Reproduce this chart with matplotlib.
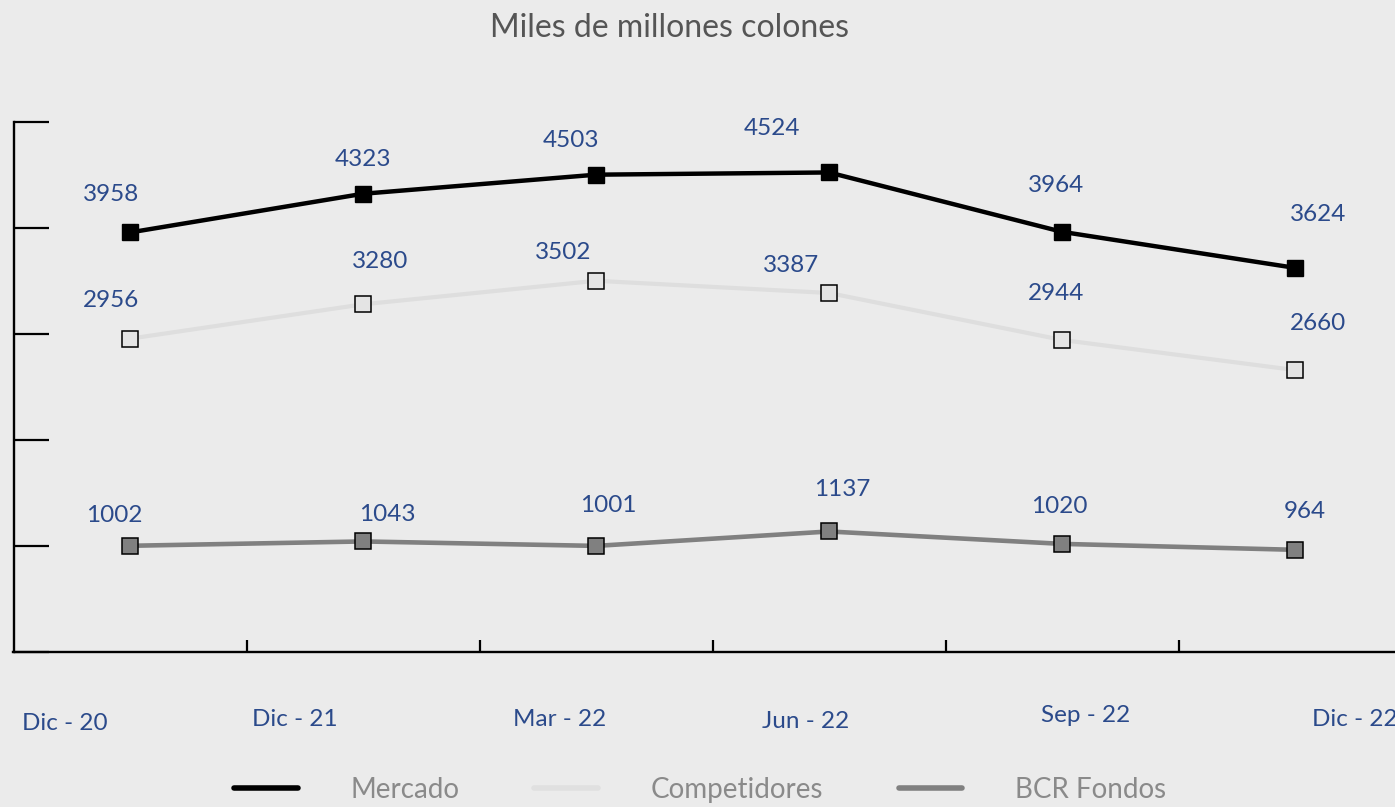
import numpy as np
import matplotlib.pyplot as plt
from matplotlib.lines import Line2D

# datos
periodos = ["Dic - 20", "Dic - 21", "Mar - 22", "Jun - 22", "Sep - 22", "Dic - 22"]
mercado = [3958, 4323, 4503, 4524, 3964, 3624]
competidores = [2956, 3280, 3502, 3387, 2944, 2660]
bcr_fondos = [1002, 1043, 1001, 1137, 1020, 964]

# desplazamientos (pixeles) de las etiquetas
off_mercado = [(-19, 38), (0, 34), (-25, 34), (-57, 44), (-6, 46), (23, 53)]
off_comp = [(-19, 38), (17, 43), (-33, 28), (-38, 27), (-6, 46), (23, 47)]
off_bcr = [(-16, 30), (24, 27), (12, 40), (13, 42), (-3, 37), (10, 38)]
off_per = [(-65, -71), (-68, -68), (-36, -68), (-23, -70), (24, -63), (60, -68)]

azul = "#2b4a8b"
fondo = "#ebebeb"

plt.rcParams['font.family'] = ['Lato', 'DejaVu Sans']

fig = plt.figure(figsize=(13.95, 8.07), dpi=100, facecolor=fondo)
ax = fig.add_axes([13.5 / 1395, 155 / 807, 1398 / 1395, 530 / 807])
ax.set_facecolor("none")

x = np.arange(len(periodos))

ax.plot(x, competidores, color="#dedede", lw=3.0, marker="s", ms=11.5,
        mfc="#e4e4e4", mec="black", mew=1.1, zorder=3)
ax.plot(x, bcr_fondos, color="#808080", lw=3.3, marker="s", ms=11.5,
        mfc="#808080", mec="black", mew=1.1, zorder=3)
ax.plot(x, mercado, color="black", lw=3.2, marker="s", ms=12,
        mfc="black", mec="black", zorder=4)

for serie, offs in [(mercado, off_mercado), (competidores, off_comp), (bcr_fondos, off_bcr)]:
    for i, v in enumerate(serie):
        ax.annotate(str(v), xy=(i, v), xytext=offs[i], textcoords="offset pixels",
                    ha="center", va="center", fontsize=17.5, color=azul)

for i, p in enumerate(periodos):
    ax.annotate(p, xy=(i, 0), xytext=off_per[i], textcoords="offset pixels",
                ha="center", va="center", fontsize=17.5, color=azul,
                annotation_clip=False)

ax.set_xlim(-0.5, len(periodos) - 0.5)
ax.set_ylim(0, 5000)
ax.set_yticks(range(0, 5001, 1000))
ax.set_xticks(np.arange(0.5, len(periodos) - 0.5, 1))
ax.set_xticklabels([])
ax.set_yticklabels([])
ax.tick_params(axis="y", direction="in", length=25, width=1.6, color="black")
ax.tick_params(axis="x", direction="in", length=8.5, width=1.6, color="black")
for s in ["top", "right"]:
    ax.spines[s].set_visible(False)
for s in ["left", "bottom"]:
    ax.spines[s].set_linewidth(1.7)
    ax.spines[s].set_color("black")

fig.text(670 / 1395, 1 - 28 / 807, "Miles de millones colones", ha="center", va="center",
         fontsize=23, color="#555555")

handles = [Line2D([], [], color="black", lw=4, solid_capstyle="round"),
           Line2D([], [], color="#e0e0e0", lw=4, solid_capstyle="round"),
           Line2D([], [], color="#808080", lw=4, solid_capstyle="round")]
leg = fig.legend(handles, ["Mercado", "Competidores", "BCR Fondos"], loc="center",
                 bbox_to_anchor=(700 / 1395, 17 / 807), ncol=3, frameon=False,
                 fontsize=20, handlelength=2.3, handletextpad=1.9, columnspacing=2.7)
for t in leg.get_texts():
    t.set_color("#8a8a8a")

fig.savefig("out.png", dpi=100, facecolor=fondo)
